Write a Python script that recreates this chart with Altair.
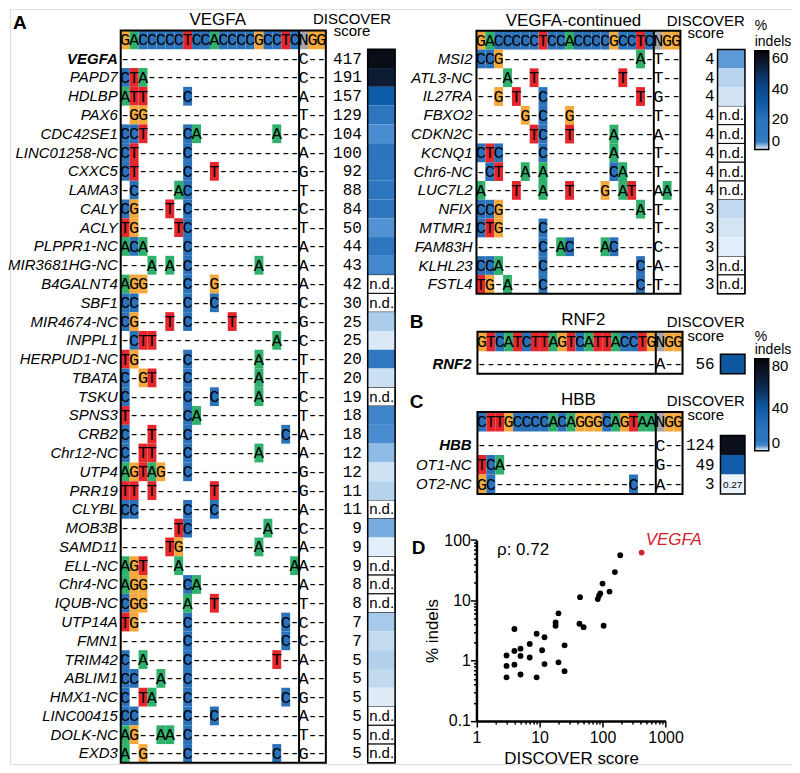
import altair as alt
import pandas as pd

# ------------------------------------------------------------------ data
vegfa_guide = "GACCCCCTCCACCCCGCCTC"
rnf2_guide = "GTCATCTTAGTCATTACCTG"
hbb_guide = "CTTGCCCCACAGGGCAGTAA"

vegfa_genes = ["VEGFA", "PAPD7", "HDLBP", "PAX6", "CDC42SE1", "LINC01258-NC", "CXXC5", "LAMA3",
               "CALY", "ACLY", "PLPPR1-NC", "MIR3681HG-NC", "B4GALNT4", "SBF1", "MIR4674-NC",
               "INPPL1", "HERPUD1-NC", "TBATA", "TSKU", "SPNS3", "CRB2", "Chr12-NC", "UTP4",
               "PRR19", "CLYBL", "MOB3B", "SAMD11", "ELL-NC", "Chr4-NC", "IQUB-NC", "UTP14A",
               "FMN1", "TRIM42", "ABLIM1", "HMX1-NC", "LINC00415", "DOLK-NC", "EXD3"]
vegfa_mismatch = ["....................", "CTA.................", "ATT....C............",
                  ".GG.................", "CCT....CA........A..", "CT.....C............",
                  "CT.....C..T.........", ".C....AC............", "CG...T.C............",
                  "TG....TC............", "ACA....C............", "...A.A.C.......A....",
                  "AGG....C..G.........", "CC.....C..C.........", "CG...T.C....T.......",
                  ".CTT.............A..", "TG.....C.......A....", "C.GT...C.......A....",
                  "C......C..C....A....", "T......CA...........", "C..T...C..........C.",
                  "C.TT...C.......A....", "AGTAG..C............", "TT.T......T.........",
                  "CC.....C..C.........", "......TC........A...", ".....TG........A....",
                  "AGT...A............A", "AGG....CA...........", "CGG....A..T.........",
                  "TG.....C..........C.", ".......C..........C.", "C.A....C.........T..",
                  "CC..A..C............", "C.TA...C..........C.", "CC.....C..C.........",
                  "AG..AA.C............", "A.G....C.........C.."]
vegfa_pam = ["C..", "C..", "A..", "T..", "C..", "A..", "G..", "T..", "C..", "T..", "A..", "A..",
             "A..", "C..", "G..", "C..", "T..", "T..", "C..", "T..", "A..", "A..", "G..", "G..",
             "A..", "C..", "A..", "A..", "A..", "T..", "C..", "C..", "A..", "A..", "G..", "A..",
             "T..", "G.."]
vegfa_score = [417, 191, 157, 129, 104, 100, 92, 88, 84, 50, 44, 43, 42, 30, 25, 25, 20, 20, 19,
               18, 18, 12, 12, 11, 11, 9, 9, 9, 8, 8, 7, 7, 5, 5, 5, 5, 5, 5]
vegfa_indels = [62, 56, 29.5, 14, 3.8, 19, 13, 12, 10.5, 3.6, 11.3, 4.1, None, None, 1.8, 0.67,
                6.1, 0.94, None, 4.3, 3.8, 2.45, 0.88, 1.49, None, 2.8, 0.53, None, None, None,
                1.9, 1.13, 1.58, 1.2, 0.59, None, None, None]

cont_genes = ["MSI2", "ATL3-NC", "IL27RA", "FBXO2", "CDKN2C", "KCNQ1", "Chr6-NC", "LUC7L2",
              "NFIX", "MTMR1", "FAM83H", "KLHL23", "FSTL4"]
cont_mismatch = ["CCG...............A.", "...A..T.........T...", "..G.T..C..........T.",
                 ".....G.C..G.........", "......TC..T....A....", "CTC....C.......A....",
                 ".CT..A.A.......CA...", "A...T..A..T...G.AT..", "CCG...............A.",
                 "CTG....C............", ".......C.AC...AC....", "CCA....C..........C.",
                 "TG.A...C..........C."]
cont_pam = ["T..", "T..", "G..", "T..", "A..", "T..", "T..", "AA.", "T..", "T..", "C..", "A..", "T.."]
cont_score = [4, 4, 4, 4, 4, 4, 4, 4, 3, 3, 3, 3, 3]
cont_indels = [3.35, 1.45, 0.86, None, None, None, None, None, 1.22, 0.82, 0.53, None, None]

rnf2_genes = ["RNF2"]
rnf2_mismatch = ["...................."]
rnf2_pam = ["A.."]
rnf2_score = [56]
rnf2_indels = [42]

hbb_genes = ["HBB", "OT1-NC", "OT2-NC"]
hbb_mismatch = ["....................", "TCA.................", "GC...............C.."]
hbb_pam = ["C..", "G..", "A.."]
hbb_score = [124, 49, 3]
hbb_indels = [80, 38, 0.27]

bold_genes = ["VEGFA", "RNF2", "HBB"]
rho_text = "ρ: 0.72"

# color scales for % indels (two legends)
a_domain = [0, 0.5, 1, 1.5, 2, 2.5, 3, 3.8, 4.5, 6, 19, 30, 42, 52, 58, 65]
a_range = ["#f2f7fd", "#e4eff9", "#c9def2", "#b6d3ee", "#a3c8e9", "#8cbbe6", "#6aa3da", "#4a8cd0",
           "#3a80c6", "#2f78c0", "#2c74bc", "#0d5ba7", "#0a4585", "#0b2a52", "#0b1526", "#050505"]
b_domain = [0, 0.3, 1, 3, 6, 20, 40, 60, 75, 87]
b_range = ["#f2f7fd", "#ecf3fb", "#c9def2", "#6aa3da", "#2f78c0", "#2c74bc", "#0d5ba7", "#0b2a52",
           "#0b1526", "#050505"]

NT = {"A": "#2fb06b", "C": "#2b72b9", "G": "#f5a83b", "T": "#e5262d", "N": "#a7a7a7"}
SANS = "Liberation Sans"
MONO = "Liberation Mono"

# ------------------------------------------------------------------ layout
# layout constants are in "figure units"; the x / y scales map them into the plot area
W, H = 784, 757
XA, XB = 3, 801
YA, YB = 0, 772
XS = alt.Scale(domain=[XA, XB], range=[0, W], nice=False, zero=False)
YS = alt.Scale(domain=[YA, YB], range=[0, H], nice=False, zero=False)


def fx(p):
    return (p - XA) * W / (XB - XA)


def fy(p):
    return (p - YA) * H / (YB - YA)


geoms = {
    "A1": dict(x0=116, dx=9.1, ht=22, hh=19.2, rt=41.2, rh=19.2, name=113, score=362, hx0=368, hx1=396),
    "A2": dict(x0=479, dx=9.05, ht=22.3, hh=19.2, rt=41.5, rh=19.2, name=475, score=722, hx0=725, hx1=753),
    "B": dict(x0=480, dx=9.1, ht=330, hh=20, rt=353, rh=20, name=474, score=722, hx0=728, hx1=753),
    "C": dict(x0=480, dx=9.1, ht=412, hh=20, rt=436, rh=20, name=474, score=722, hx0=728, hx1=753),
}
panels = [("A1", vegfa_guide, vegfa_genes, vegfa_mismatch, vegfa_pam, vegfa_score, vegfa_indels, "a"),
          ("A2", vegfa_guide, cont_genes, cont_mismatch, cont_pam, cont_score, cont_indels, "a"),
          ("B", rnf2_guide, rnf2_genes, rnf2_mismatch, rnf2_pam, rnf2_score, rnf2_indels, "b"),
          ("C", hbb_guide, hbb_genes, hbb_mismatch, hbb_pam, hbb_score, hbb_indels, "b")]

cells, plain, names, scores, boxes, seps, heat, nd, frames, small = ([] for _ in range(10))
for key, guide, genes, mism, pam, sc, ind, scale_id in panels:
    g = geoms[key]
    x0, dx = g["x0"], g["dx"]

    def col(j):
        return x0 + j * dx
    for j, b in enumerate(guide + "NGG"):
        cells.append(dict(x=col(j), x2=col(j + 1), y=g["ht"], y2=g["ht"] + g["hh"],
                          fill=NT[b], t=b, xc=col(j) + dx / 2, yc=g["ht"] + g["hh"] / 2 + 0.5))
    for i, gene in enumerate(genes):
        y0 = g["rt"] + i * g["rh"]
        y1 = y0 + g["rh"]
        yc = (y0 + y1) / 2
        row = mism[i] + pam[i]
        for j, ch in enumerate(row):
            if j == 20:
                plain.append(dict(xc=col(j) + dx / 2, yc=yc + 0.5, t=ch))
            elif ch == ".":
                plain.append(dict(xc=col(j) + dx / 2, yc=yc, t="-"))
            else:
                cells.append(dict(x=col(j), x2=col(j + 1), y=y0, y2=y1, fill=NT[ch], t=ch,
                                  xc=col(j) + dx / 2, yc=yc + 0.5))
        names.append(dict(xc=g["name"], yc=yc, t=gene, bold=gene in bold_genes))
        scores.append(dict(xc=g["score"], yc=yc, t=str(sc[i])))
        hx0, hx1 = g["hx0"], g["hx1"]
        if ind[i] is None:
            nd.append(dict(x=hx0, x2=hx1, y=y0, y2=y1, xc=hx0 + 1.5, yc=yc, t="n.d."))
        else:
            heat.append(dict(x=hx0, x2=hx1, y=y0, y2=y1, v=ind[i], s=scale_id))
            if ind[i] < 0.5:
                small.append(dict(xc=(hx0 + hx1) / 2, yc=yc + 1, t=str(ind[i])))
    ybot = g["rt"] + len(genes) * g["rh"]
    boxes.append(dict(x=x0, x2=col(23), y=g["ht"], y2=ybot))
    seps.append(dict(x=col(20), y=g["ht"], y2=ybot))
    frames.append(dict(x=g["hx0"], x2=g["hx1"], y=g["rt"], y2=ybot))

cells, plain, names, scores = map(pd.DataFrame, (cells, plain, names, scores))
boxes, seps, heat, nd, frames, small = map(pd.DataFrame, (boxes, seps, heat, nd, frames, small))

ann_big = pd.DataFrame([dict(xc=215, yc=11, t="VEGFA"), dict(xc=578, yc=12, t="VEGFA-continued"),
                        dict(xc=588, yc=318, t="RNF2"), dict(xc=583, yc=400, t="HBB")])
ann_disc = pd.DataFrame([dict(xc=352, yc=10, t="DISCOVER"), dict(xc=352, yc=23, t="score"),
                         dict(xc=713, yc=12, t="DISCOVER"), dict(xc=713, yc=25, t="score"),
                         dict(xc=713, yc=320, t="DISCOVER"), dict(xc=713, yc=334, t="score"),
                         dict(xc=713, yc=401, t="DISCOVER"), dict(xc=713, yc=415, t="score")])
ann_letters = pd.DataFrame([dict(xc=13, yc=14, t="A"), dict(xc=418, yc=320, t="B"),
                            dict(xc=418, yc=402, t="C"), dict(xc=420, yc=551, t="D")])
ann_rho = pd.DataFrame([dict(xc=500, yc=553, t=rho_text)])


def enc_text(df):
    return alt.Chart(df).encode(x=alt.X("xc:Q", scale=XS, axis=None),
                                y=alt.Y("yc:Q", scale=YS, axis=None), text="t:N")


def enc_rect(df):
    return alt.Chart(df).encode(x=alt.X("x:Q", scale=XS, axis=None), x2="x2:Q",
                                y=alt.Y("y:Q", scale=YS, axis=None), y2="y2:Q")


tables = alt.layer(
    enc_rect(cells).mark_rect().encode(fill=alt.Fill("fill:N", scale=None)),
    enc_text(cells).mark_text(font=MONO, fontSize=17, baseline="middle", color="black"),
    enc_text(plain).mark_text(font=MONO, fontSize=17, baseline="middle", color="black"),
    enc_rect(boxes).mark_rect(fill="transparent", stroke="black", strokeWidth=2),
    alt.Chart(seps).mark_rule(color="black", strokeWidth=2).encode(
        x=alt.X("x:Q", scale=XS, axis=None), y=alt.Y("y:Q", scale=YS, axis=None), y2="y2:Q"),
    enc_text(names[~names.bold]).mark_text(font=SANS, fontSize=15, fontStyle="italic", align="right", baseline="middle"),
    enc_text(names[names.bold]).mark_text(font=SANS, fontSize=15, fontStyle="italic", fontWeight="bold", align="right", baseline="middle"),
    enc_text(scores).mark_text(font=MONO, fontSize=16, align="right", baseline="middle"),
    enc_rect(nd).mark_rect(fill="white", stroke="black", strokeWidth=1),
    enc_text(nd).mark_text(font=SANS, fontSize=15, align="left", baseline="middle"),
    enc_text(ann_big).mark_text(font=SANS, fontSize=17, baseline="middle"),
    enc_text(ann_disc).mark_text(font=SANS, fontSize=15, baseline="middle"),
    enc_text(ann_letters).mark_text(font=SANS, fontSize=19, fontWeight="bold", baseline="middle"),
    enc_text(ann_rho).mark_text(font=SANS, fontSize=17, align="left", baseline="middle"),
)


def heat_layer(sid, dom, rng, lx, ly, length, lineh, vals):
    d = heat[heat.s == sid]
    return enc_rect(d).mark_rect().encode(
        color=alt.Color("v:Q", scale=alt.Scale(domain=dom, range=rng),
                        legend=alt.Legend(orient="none", legendX=lx, legendY=ly, direction="vertical",
                                          title=["%", "indels"], titleFont=SANS, titleFontSize=14,
                                          titleFontWeight="normal", titleLineHeight=lineh, titlePadding=2,
                                          titleAlign="left", labelFont=SANS, labelFontSize=15,
                                          labelColor="black", titleColor="black",
                                          gradientLength=length, gradientThickness=14,
                                          gradientStrokeColor="black", gradientStrokeWidth=1.5,
                                          values=vals, labelOffset=3)))


heatA = heat_layer("a", a_domain, a_range, fx(763), fy(10), fy(143) - fy(42), 16, [0, 20, 40, 60])
heatB = heat_layer("b", b_domain, b_range, fx(763), fy(328), fy(450) - fy(356), 13, [0, 20, 40, 60, 80])
overlay = alt.layer(
    enc_rect(frames).mark_rect(fill="transparent", stroke="black", strokeWidth=1.5),
    enc_text(small).mark_text(font=SANS, fontSize=10, baseline="middle"),
)

# ------------------------------------------------------------------ panel D
sc_genes, sc_x, sc_y = [], [], []
for gl, sl, il in ((vegfa_genes, vegfa_score, vegfa_indels), (cont_genes, cont_score, cont_indels)):
    for gname, s, v in zip(gl, sl, il):
        if v is not None:
            sc_genes.append(gname); sc_x.append(s); sc_y.append(v)
scatter = pd.DataFrame(dict(gene=sc_genes, score=sc_x, indels=sc_y))
scatter["col"] = ["#d2232c" if gname == "VEGFA" else "black" for gname in scatter.gene]

DX = alt.Scale(type="log", domain=[1, 1000], range=[fx(479), fx(672)], nice=False)
DY = alt.Scale(type="log", domain=[0.1, 100], range=[fy(728), fy(543)], nice=False)
x_ticks = [m * 10 ** e for e in range(0, 3) for m in range(1, 10)] + [1000]
y_ticks = [round(m * 10 ** e, 1) for e in range(-1, 2) for m in range(1, 10)] + [100]
common_axis = dict(grid=False, domainColor="black", domainWidth=2.5, tickColor="black", tickWidth=1.5,
                   labelFont=SANS, titleFont=SANS, labelFontSize=16, titleFontSize=17,
                   titleFontWeight="normal", labelColor="black", titleColor="black",
                   labelOverlap=False, labelFlush=False)
x_axis = alt.Axis(orient="bottom", offset=-(H - fy(728)), values=x_ticks, title="DISCOVER score",
                  labelExpr="indexof([1,10,100,1000], datum.value) >= 0 ? toString(datum.value) : ''",
                  tickSize={"condition": {"test": "indexof([1,10,100,1000], datum.value) >= 0", "value": 6}, "value": 3},
                  labelPadding=3, titlePadding=5, **common_axis)
y_axis = alt.Axis(orient="left", offset=-fx(479), values=y_ticks, title="% indels",
                  labelExpr="indexof([0.1,1,10,100], datum.value) >= 0 ? toString(datum.value) : ''",
                  tickSize={"condition": {"test": "indexof([0.1,1,10,100], datum.value) >= 0", "value": 6}, "value": 3},
                  labelPadding=0, titlePadding=2, **common_axis)

d_base = alt.Chart(scatter).encode(x=alt.X("score:Q", scale=DX, axis=x_axis),
                                   y=alt.Y("indels:Q", scale=DY, axis=y_axis))
d_panel = alt.layer(
    d_base.mark_circle(size=34, opacity=1).encode(color=alt.Color("col:N", scale=None)),
    d_base.transform_filter(alt.datum.gene == "VEGFA").mark_text(
        font=SANS, fontSize=17, fontStyle="italic", color="#d2232c", align="left", dx=4, dy=-13
    ).encode(text="gene:N"),
)

chart = alt.layer(tables, heatA, heatB, overlay, d_panel).resolve_scale(
    x="independent", y="independent", color="independent"
).properties(width=W, height=H, padding=0).configure_view(stroke=None).configure(font=SANS)

chart.save("out.html", embed_options={"renderer": "svg", "actions": False})
